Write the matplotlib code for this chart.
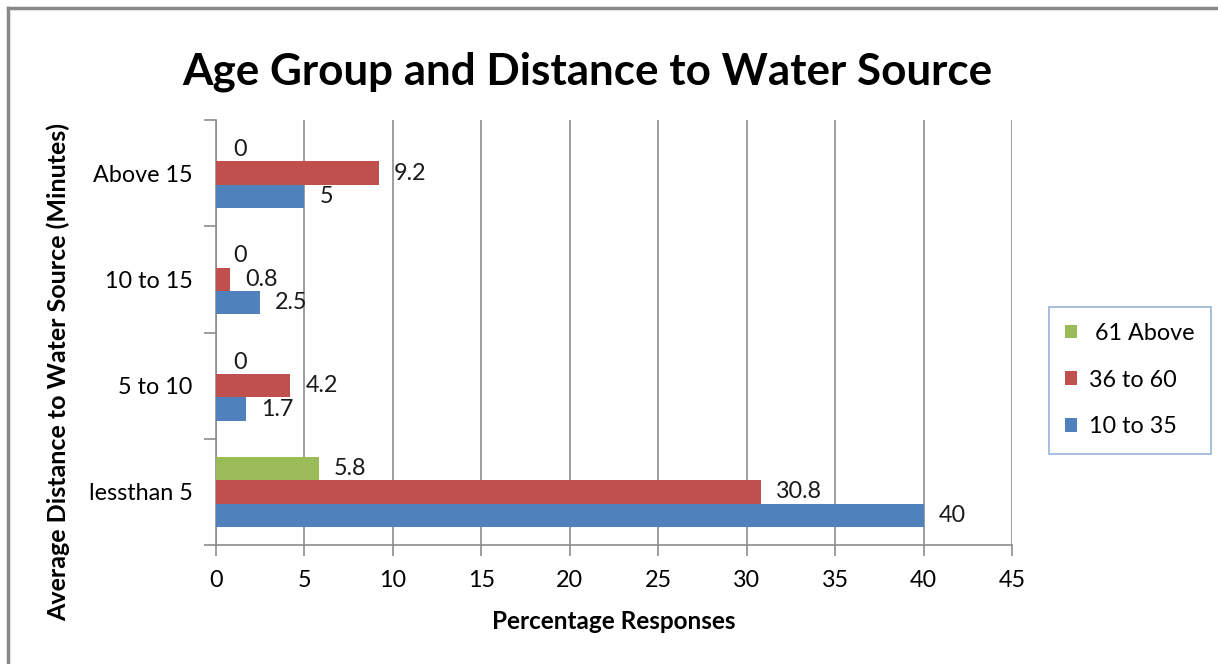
import matplotlib
matplotlib.use("Agg")
import matplotlib.pyplot as plt
from matplotlib.lines import Line2D
from matplotlib.patches import Patch
import numpy as np

plt.rcParams['font.family'] = ['Lato', 'DejaVu Sans']

categories = ["lessthan 5", "5 to 10", "10 to 15", "Above 15"]
series_names = [" 61 Above", "36 to 60", "10 to 35"]
age_61_above = [5.8, 0, 0, 0]
age_36_60 = [30.8, 4.2, 0.8, 9.2]
age_10_35 = [40, 1.7, 2.5, 5]
x_ticks = [0, 5, 10, 15, 20, 25, 30, 35, 40, 45]

colors = {" 61 Above": "#9BBB59", "36 to 60": "#C0504D", "10 to 35": "#4F81BD"}
grid_color = "#8c8c8c"
fs = 16.8

fig = plt.figure(figsize=(12.18, 6.64), dpi=100)
ax = fig.add_axes([216 / 1218, 1 - 545 / 664, (1012 - 216) / 1218, (545 - 120) / 664])

y = np.arange(len(categories))
h = 0.22
series = [(age_61_above, " 61 Above", h), (age_36_60, "36 to 60", 0.0), (age_10_35, "10 to 35", -h)]
for vals, name, off in series:
    bars = ax.barh(y + off, vals, height=h, color=colors[name], label=name, zorder=3)
    for b, v in zip(bars, vals):
        ax.annotate(f"{v:g}", (v, b.get_y() + b.get_height() / 2),
                    xytext=(15 if v > 0 else 17, 0), textcoords="offset pixels",
                    ha="left", va="center", fontsize=fs, color="#1a1a1a", zorder=4)

ax.set_xlim(0, 45)
ax.set_ylim(-0.5, 3.5)
ax.set_xticks(x_ticks)
ax.set_xticklabels([str(t) for t in x_ticks], fontsize=fs)
ax.set_yticks(y)
ax.set_yticklabels(categories, fontsize=fs)
ax.set_yticks(np.arange(-0.5, 3.6, 1.0), minor=True)
ax.tick_params(axis="y", which="major", length=0, pad=17)
ax.tick_params(axis="y", which="minor", length=9, color=grid_color, width=1.2)
ax.tick_params(axis="x", which="major", length=8, color=grid_color, width=1.2, pad=10)

ax.xaxis.grid(True, color=grid_color, linewidth=1.2, zorder=0)
for s in ["top", "right"]:
    ax.spines[s].set_visible(False)
for s in ["left", "bottom"]:
    ax.spines[s].set_color(grid_color)
    ax.spines[s].set_linewidth(1.2)

ax.set_xlabel("Percentage Responses", fontsize=17.5, fontweight="bold", labelpad=14)
ax.set_ylabel("Average Distance to Water Source (Minutes)", fontsize=18, fontweight="bold")
ax.yaxis.set_label_coords(-0.183, 0.407)

fig.text(587 / 1218, 1 - 72 / 664, "Age Group and Distance to Water Source",
         ha="center", va="center", fontsize=31.7, fontweight="bold")

handles = [Patch(facecolor=colors[n], label=n) for n in series_names]
leg = fig.legend(handles=handles, loc="center", bbox_to_anchor=(1130 / 1218, 1 - 380 / 664),
                 fontsize=fs, frameon=True, fancybox=False, edgecolor="#7f9fcf",
                 handlelength=0.52, handleheight=0.52, labelspacing=1.1, borderpad=0.7,
                 handletextpad=0.5)
leg.get_frame().set_linewidth(1.2)

# outer chart frame
fig.add_artist(Line2D([8 / 1218, 1.0], [1 - 8 / 664, 1 - 8 / 664], color="#888888", linewidth=2.5))
fig.add_artist(Line2D([8 / 1218, 8 / 1218], [0.0, 1 - 8 / 664], color="#888888", linewidth=2.5))

fig.savefig("out.png", dpi=100)
